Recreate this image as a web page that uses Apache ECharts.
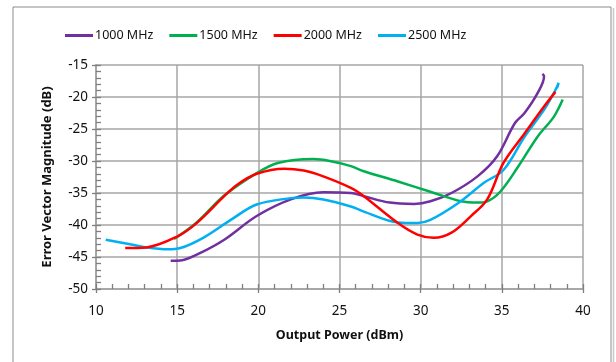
<!DOCTYPE html>
<html>
<head>
<meta charset="utf-8">
<script src="https://cdn.jsdelivr.net/npm/echarts@6/dist/echarts.min.js"></script>
<style>
  html, body { margin: 0; padding: 0; background: #fff; }
  #chart { width: 616px; height: 362px; }
</style>
</head>
<body>
<div id="chart"></div>
<script>
  // 曲线数据 [输出功率 dBm, EVM dB]
  const seriesNames = ['1000 MHz', '1500 MHz', '2000 MHz', '2500 MHz']
  const seriesColors = ['#7030A0', '#00B050', '#FF0000', '#00B0F0']

  const evm1000 = [
    [14.6, -45.6], [15.3, -45.5], [16.4, -44.4], [17.9, -42.3], [19.9, -38.6],
    [22, -36], [24, -34.9], [25.7, -35], [26.5, -35.5], [28.1, -36.5],
    [29.6, -36.7], [30.6, -36.3], [31.9, -35], [33.5, -32.4], [34.7, -29.3],
    [35.8, -24.1], [36.4, -22.5], [37.2, -19.4], [37.6, -16.8], [37.5, -16.4]
  ]
  const evm1500 = [
    [14.8, -42.2], [16.2, -39.6], [17.9, -35.4], [19.9, -31.9], [21.2, -30.3],
    [23.4, -29.7], [24.4, -30], [25.7, -30.8], [26.5, -31.6], [28.6, -33.2],
    [30.6, -34.8], [32.5, -36.3], [33.5, -36.5], [34.1, -36.3], [34.9, -34.8],
    [36, -30.9], [37.2, -26.2], [38.2, -23.1], [38.75, -20.4]
  ]
  const evm2000 = [
    [11.8, -43.6], [13.1, -43.5], [15, -41.8], [16.2, -39.7], [17.9, -35.5],
    [18.7, -33.7], [19.9, -32], [21.6, -31.2], [22.8, -31.5], [24, -32.4],
    [25.7, -34.2], [26.5, -35.5], [28.6, -39.7], [29.8, -41.5], [30.8, -42],
    [31.9, -41.2], [33.1, -38.6], [34.1, -36], [35.1, -30.3], [36.4, -25.7],
    [37.6, -21.5], [38.3, -19.2]
  ]
  const evm2500 = [
    [10.6, -42.3], [12.1, -43], [13.1, -43.5], [14.4, -43.8], [15.2, -43.6],
    [16.6, -42], [18.3, -39.2], [19.9, -36.8], [22, -35.8], [22.8, -35.7],
    [24, -36], [25.7, -37.1], [26.5, -37.9], [28.6, -39.6], [29.8, -39.7],
    [30.6, -39.2], [32.3, -36.6], [33.9, -33.4], [35.1, -31.4], [36.4, -26.2],
    [37.6, -22], [38.2, -19.4], [38.5, -17.8], [38.4, -18.6]
  ]
  const allData = [evm1000, evm1500, evm2000, evm2500]

  const xMin = 10, xMax = 40, xStep = 5
  const yMin = -50, yMax = -15, yStep = 5
  const minorStep = 1

  const chart = echarts.init(document.getElementById('chart'))

  const gridColor = '#a6a6a6'
  const tickColor = '#7f7f7f'
  const font = '"Noto Sans", sans-serif'

  // 只画刻度的辅助轴
  const tickAxis = (pos, min, max, step, inside, len) => ({
    type: 'value',
    position: pos,
    min: min, max: max, interval: step,
    axisLine: { show: true, onZero: false, lineStyle: { color: gridColor, width: 1.5 } },
    axisTick: { show: true, inside: inside, length: len, lineStyle: { color: tickColor, width: 1.3 } },
    axisLabel: { show: false },
    splitLine: { show: false }
  })

  const option = {
    animation: false,
    textStyle: { fontFamily: font },
    // 外框
    graphic: [{
      type: 'rect',
      shape: { x: 13, y: 7, width: 598, height: 370 },
      style: { fill: 'none', stroke: '#8c8c8c', lineWidth: 1 },
      silent: true
    }, {
      type: 'line',
      shape: { x1: 613.5, y1: 8, x2: 613.5, y2: 370 },
      style: { stroke: '#c8c8c8', lineWidth: 1.5 },
      silent: true
    }],
    legend: {
      top: 24,
      left: 60,
      icon: 'rect',
      itemWidth: 28,
      itemHeight: 3,
      itemGap: 16,
      data: seriesNames,
      textStyle: { fontSize: 12.5, color: '#111', fontFamily: font, padding: [0, 0, 0, -3] }
    },
    grid: { left: 96, right: 33, top: 65, bottom: 73 },
    xAxis: [{
      type: 'value',
      min: xMin, max: xMax, interval: xStep,
      name: 'Output Power (dBm)',
      nameLocation: 'middle',
      nameGap: 40,
      nameTextStyle: { fontSize: 12.5, fontWeight: 'bold', color: '#111', fontFamily: font },
      axisLine: { onZero: false, lineStyle: { color: gridColor, width: 1.5 } },
      axisTick: { show: false },
      axisLabel: { fontSize: 13.5, color: '#111', margin: 15, fontFamily: font },
      splitLine: { show: true, lineStyle: { color: gridColor, width: 1.5 } }
    },
      tickAxis('bottom', xMin, xMax, xStep, false, 4),
      tickAxis('bottom', xMin, xMax, minorStep, true, 5)
    ],
    yAxis: [{
      type: 'value',
      min: yMin, max: yMax, interval: yStep,
      name: 'Error Vector Magnitude (dB)',
      nameLocation: 'middle',
      nameGap: 42,
      nameTextStyle: { fontSize: 13, fontWeight: 'bold', color: '#111', fontFamily: font },
      axisLine: { show: true, onZero: false, lineStyle: { color: gridColor, width: 1.5 } },
      axisTick: { show: false },
      axisLabel: { fontSize: 13.5, color: '#111', margin: 8, fontFamily: font },
      splitLine: { show: true, lineStyle: { color: gridColor, width: 1.5 } }
    },
      tickAxis('left', yMin, yMax, yStep, false, 4),
      tickAxis('left', yMin, yMax, minorStep, true, 5)
    ],
    series: allData.map((d, i) => ({
      name: seriesNames[i],
      type: 'line',
      data: d,
      smooth: 0.35,
      symbol: 'none',
      color: seriesColors[i],
      lineStyle: { width: 2.5, color: seriesColors[i] },
      z: 3 + (i === 2 ? 1 : 0)
    }))
  }

  chart.setOption(option)
</script>
</body>
</html>
